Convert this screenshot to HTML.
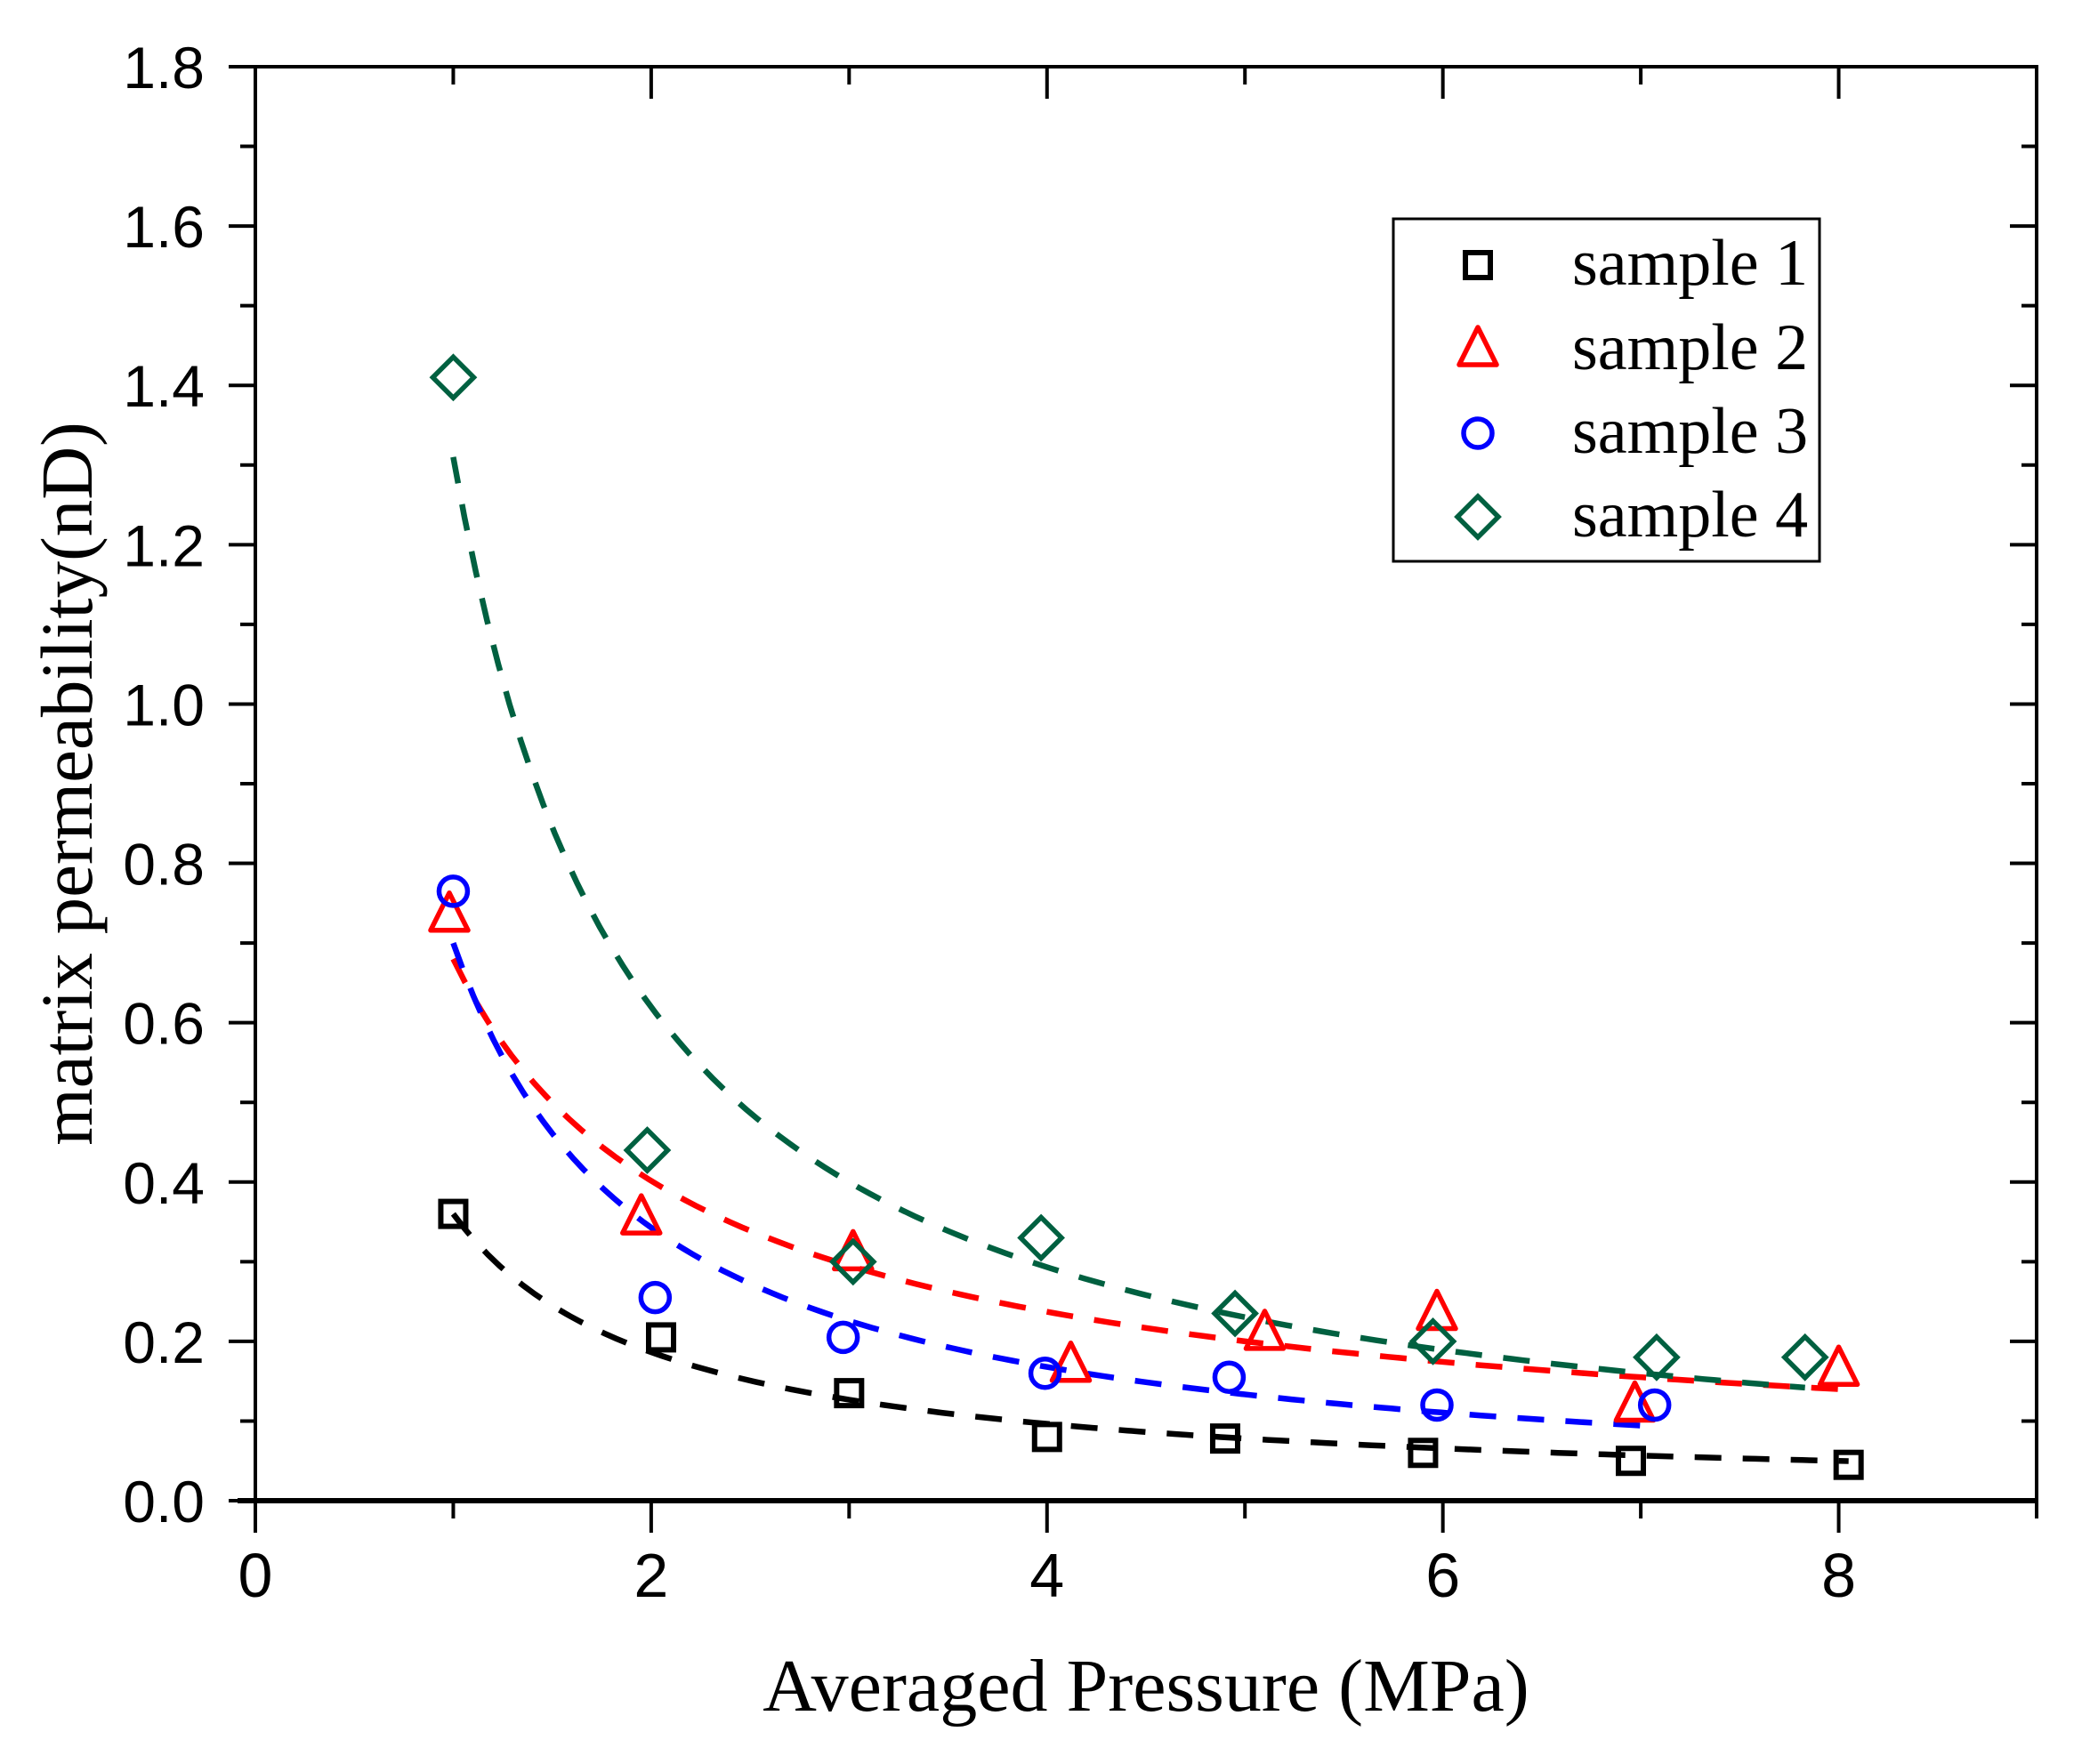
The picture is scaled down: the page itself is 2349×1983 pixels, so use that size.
<!DOCTYPE html>
<html><head><meta charset="utf-8"><style>
html,body{margin:0;padding:0;background:#fff;}
svg{display:block;}
</style></head><body>
<svg id="chart" width="2349" height="1983" viewBox="0 0 2349 1983" xmlns="http://www.w3.org/2000/svg">
<g id="axes"></g>
<g id="fits"></g>
<g id="marks"></g>
<g id="legend">
<rect x="1566" y="246" width="479" height="385" fill="#fff" stroke="#000" stroke-width="3"/>
</g>
<text x="1288" y="1923" text-anchor="middle" style="font-family:'Liberation Serif',serif;font-size:84px;">Averaged Pressure (MPa)</text>
<text transform="translate(103,881) rotate(-90)" text-anchor="middle" style="font-family:'Liberation Serif',serif;font-size:83px;">matrix permeability(nD)</text>
</svg>
<script>
const xTicks=[0,2,4,6,8];
const yTicks=[0.0,0.2,0.4,0.6,0.8,1.0,1.2,1.4,1.6,1.8];
const yTickLabels=["0.0","0.2","0.4","0.6","0.8","1.0","1.2","1.4","1.6","1.8"];
const seriesNames=["sample 1","sample 2","sample 3","sample 4"];
const s1x=[1.0,2.05,3.0,4.0,4.9,5.9,6.95,8.05];
const s1y=[0.36,0.205,0.135,0.08,0.078,0.06,0.05,0.045];
const s2x=[0.98,1.95,3.02,4.12,5.1,5.97,6.97,8.0];
const s2y=[0.735,0.355,0.31,0.17,0.21,0.235,0.12,0.165];
const s3x=[1.0,2.02,2.97,3.99,4.92,5.97,7.07];
const s3y=[0.765,0.255,0.205,0.16,0.155,0.12,0.12];
const s4x=[1.0,1.98,3.02,3.97,4.95,5.95,7.08,7.83];
const s4y=[1.41,0.44,0.3,0.33,0.235,0.2,0.18,0.18];
const fitA=[0.36,0.68,0.70,1.31];
const fitB=[0.95,0.76,1.03,1.08];
const fitStart=[1.0,1.0,1.0,1.0];
const fitEnd=[8.05,8.0,7.05,7.83];

const NS="http://www.w3.org/2000/svg";
const L=287,R=2289,T=75,B=1687;
const xMin=0,xMax=9,yMin=0,yMax=1.8;
function sx(v){return L+(v-xMin)/(xMax-xMin)*(R-L);}
function sy(v){return B-(v-yMin)/(yMax-yMin)*(B-T);}
function mk(tag,attrs,parent){const e=document.createElementNS(NS,tag);for(const k in attrs)e.setAttribute(k,attrs[k]);parent.appendChild(e);return e;}
const colors=["#000000","#ff0000","#0000ff","#006040"];
const shapes=["square","triangle","circle","diamond"];

const ax=document.getElementById('axes');
let frame=mk('rect',{x:L,y:T,width:R-L,height:B-T,fill:'none',stroke:'#000','stroke-width':4},ax);


let bl=mk('line',{x1:L-20,y1:B,x2:R,y2:B,stroke:'#000','stroke-width':6},ax);


for(let v=0;v<=9;v++){
  const major=(v%2===0);
  const len=major?36:20;
  let t=mk('line',{x1:sx(v),y1:B,x2:sx(v),y2:B+len,stroke:'#000','stroke-width':4},ax);
  
  
  let t2=mk('line',{x1:sx(v),y1:T,x2:sx(v),y2:T+len,stroke:'#000','stroke-width':4},ax);
  
  
}
xTicks.forEach(v=>{
  let tx=mk('text',{x:sx(v),y:1795,'text-anchor':'middle',style:"font-family:'Liberation Sans',sans-serif;font-size:70px;"},ax);
  tx.textContent=String(v);
  
  
});
for(let i=0;i<=18;i++){
  const v=i*0.1;
  const major=(i%2===0);
  const len=major?30:17;
  let t=mk('line',{x1:L-len,y1:sy(v),x2:L,y2:sy(v),stroke:'#000','stroke-width':4},ax);
  
  
  let t2=mk('line',{x1:R,y1:sy(v),x2:R-len,y2:sy(v),stroke:'#000','stroke-width':4},ax);
  
  
}
yTicks.forEach((v,i)=>{
  let tx=mk('text',{x:230,y:sy(v)+24,'text-anchor':'end',style:"font-family:'Liberation Sans',sans-serif;font-size:66px;"},ax);
  tx.textContent=yTickLabels[i];
  
  
});

function marker(shape,cx,cy,color,parent){
  let e;
  if(shape==='square'){e=mk('rect',{x:cx-14,y:cy-14,width:28,height:28,fill:'none',stroke:color,'stroke-width':6},parent);}
  else if(shape==='triangle'){e=mk('polygon',{points:`${cx},${cy-25} ${cx+21},${cy+17} ${cx-21},${cy+17}`,fill:'none',stroke:color,'stroke-width':5.5,'stroke-linejoin':'round'},parent);}
  else if(shape==='circle'){e=mk('circle',{cx:cx,cy:cy,r:16,fill:'none',stroke:color,'stroke-width':5.5},parent);}
  else {e=mk('polygon',{points:`${cx},${cy-23} ${cx+23},${cy} ${cx},${cy+23} ${cx-23},${cy}`,fill:'none',stroke:color,'stroke-width':5.5},parent);}
  return e;
}

const fits=document.getElementById('fits');
for(let s=0;s<4;s++){
  let d='';
  const n=120;
  for(let k=0;k<=n;k++){
    const x=fitStart[s]+(fitEnd[s]-fitStart[s])*k/n;
    const y=fitA[s]*Math.pow(x,-fitB[s]);
    d+=(k?'L':'M')+sx(x).toFixed(1)+','+sy(y).toFixed(1);
  }
  let p=mk('path',{d:d,fill:'none',stroke:colors[s],'stroke-width':6.5,'stroke-dasharray':'30,24'},fits);
  
  
}

const marks=document.getElementById('marks');
const XS=[s1x,s2x,s3x,s4x],YS=[s1y,s2y,s3y,s4y];
for(let s=0;s<4;s++){
  XS[s].forEach((x,i)=>{
    let m=marker(shapes[s],sx(x),sy(YS[s][i]),colors[s],marks);
    
    
  });
}

const lg=document.getElementById('legend');
const rowY=[298,393,487,581];
for(let s=0;s<4;s++){
  let m=marker(shapes[s],1661,rowY[s],colors[s],lg);
  
  
  let t=mk('text',{x:1767,y:rowY[s]+22,style:"font-family:'Liberation Serif',serif;font-size:74px;"},lg);
  t.textContent=seriesNames[s];
  
  
}
</script>
</body></html>
